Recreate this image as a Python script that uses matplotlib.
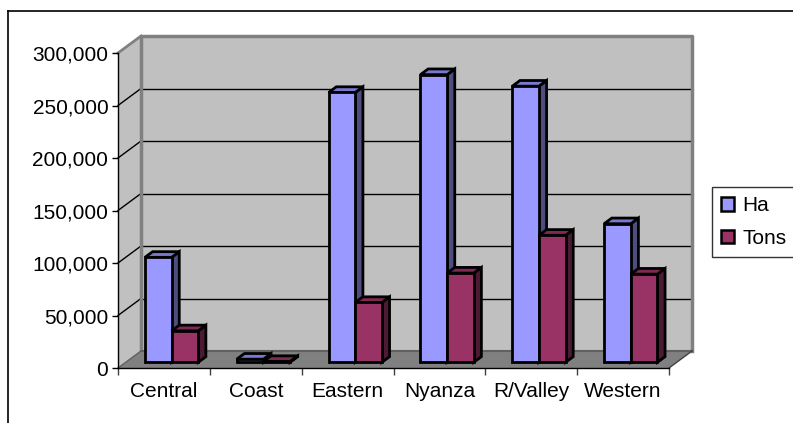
import matplotlib.pyplot as plt
from matplotlib.patches import Polygon, Rectangle, Patch
from matplotlib.lines import Line2D
from matplotlib.ticker import FuncFormatter, FixedLocator

plt.rcParams['font.family'] = ['Liberation Sans', 'DejaVu Sans']
plt.rcParams['font.size'] = 15

regions = ['Central', 'Coast', 'Eastern', 'Nyanza', 'R/Valley', 'Western']
ha = [100000, 3000, 257000, 274000, 263000, 132000]
tons = [30000, 800, 57000, 85000, 121000, 84000]
series_names = ['Ha', 'Tons']
y_max = 300000
y_step = 50000

# face colours: front, top, side
ha_cols = ('#9999FF', '#7878D0', '#4D4D80')
tons_cols = ('#993366', '#7E2A54', '#4D1A33')

W, H = 793, 423
fig = plt.figure(figsize=(W / 100, H / 100), dpi=100)

# front plane of the pseudo 3d box, in pixels
left_px, right_px, top_px, zero_px = 118, 669, 53, 368
ax = fig.add_axes([left_px / W, (H - zero_px) / H,
                   (right_px - left_px) / W, (zero_px - top_px) / H])
ncat = len(regions)
ax.set_xlim(-0.5, ncat - 0.5)
ax.set_ylim(0, y_max)
ax.set_facecolor('none')

sx = (right_px - left_px) / ncat        # px per category
sy = (zero_px - top_px) / y_max         # px per unit
DX = 23 / sx
DY = 17 / sy
x0, x1 = -0.5, ncat - 0.5

def poly(pts, fc, ec='none', lw=0, z=1):
    ax.add_patch(Polygon(pts, closed=True, facecolor=fc, edgecolor=ec,
                         linewidth=lw, zorder=z, clip_on=False))

# walls and floor
poly([(x0, 0), (x0 + DX, DY), (x0 + DX, y_max + DY), (x0, y_max)], '#C0C0C0', z=0)
poly([(x0 + DX, DY), (x1 + DX, DY), (x1 + DX, y_max + DY), (x0 + DX, y_max + DY)],
     '#C0C0C0', z=0)
poly([(x0, 0), (x1, 0), (x1 + DX, DY), (x0 + DX, DY)], '#808080', z=0.5)

for v in range(y_step, y_max, y_step):
    ax.plot([x0 + DX, x1 + DX], [v + DY, v + DY], color='black', lw=1, zorder=0.6, clip_on=False)
    ax.plot([x0, x0 + DX], [v, v + DY], color='black', lw=1, zorder=0.6, clip_on=False)

# wall outlines
gray = '#808080'
ax.plot([x0 + DX, x0 + DX, x1 + DX, x1 + DX], [DY, y_max + DY, y_max + DY, DY],
        color=gray, lw=2.5, zorder=0.7, clip_on=False)
ax.plot([x0, x0 + DX], [y_max, y_max + DY], color=gray, lw=2, zorder=0.7, clip_on=False)
ax.plot([x0 + DX, x1 + DX], [DY, DY], color='#606060', lw=1.5, zorder=0.7, clip_on=False)
ax.plot([x0, x0 + DX], [0, DY], color='#606060', lw=1, zorder=0.7, clip_on=False)
ax.plot([x1, x1 + DX], [0, DY], color='#404040', lw=1, zorder=0.7, clip_on=False)

# bars
bw = 0.29
f, b = 1 / 3, 2 / 3
for j in range(ncat):
    for k, (vals, cols) in enumerate([(ha, ha_cols), (tons, tons_cols)]):
        v = vals[j]
        xl = j - bw + k * bw
        xr = xl + bw
        z = 2 + j * 0.1 + k * 0.05
        poly([(xr + f * DX, f * DY), (xr + b * DX, b * DY),
              (xr + b * DX, v + b * DY), (xr + f * DX, v + f * DY)],
             cols[2], 'black', 2, z)
        poly([(xl + f * DX, v + f * DY), (xr + f * DX, v + f * DY),
              (xr + b * DX, v + b * DY), (xl + b * DX, v + b * DY)],
             cols[1], 'black', 2, z)
        ax.add_patch(Rectangle((xl + f * DX, f * DY), bw, v, facecolor=cols[0],
                               edgecolor='black', linewidth=2, zorder=z + 0.01,
                               clip_on=False))

# axes
for s in ['top', 'right']:
    ax.spines[s].set_visible(False)
ax.spines['left'].set_linewidth(1)
ax.spines['bottom'].set_linewidth(1)
ax.spines['bottom'].set_zorder(5)
ax.set_yticks(range(0, y_max + 1, y_step))
ax.yaxis.set_major_formatter(FuncFormatter(lambda v, p: f'{int(v):,}'))
ax.tick_params(axis='y', length=4, width=1, pad=3, labelsize=15)
ax.set_xticks(range(ncat))
ax.set_xticklabels(regions)
ax.xaxis.set_minor_locator(FixedLocator([i - 0.5 for i in range(ncat + 1)]))
ax.tick_params(axis='x', which='major', length=0, pad=10, labelsize=15)
ax.tick_params(axis='x', which='minor', length=5, width=1, color='#404040')

# legend
handles = [Patch(facecolor=ha_cols[0], edgecolor='black', linewidth=1.8),
           Patch(facecolor=tons_cols[0], edgecolor='black', linewidth=1.8)]
leg = fig.legend(handles, series_names, loc='upper left',
                 bbox_to_anchor=(712 / W, 1 - 187 / H), frameon=True, fancybox=False,
                 edgecolor='black', handlelength=0.6, handleheight=0.6,
                 handletextpad=0.4, borderpad=0.45, labelspacing=0.65,
                 borderaxespad=0, fontsize=15)
leg.get_frame().set_linewidth(1)

# outer chart border
fig.add_artist(Line2D([8 / W, 8 / W], [0, 1 - 11 / H], color='black', lw=1.2,
                      transform=fig.transFigure))
fig.add_artist(Line2D([8 / W, 1], [1 - 11 / H, 1 - 11 / H], color='black', lw=1.2,
                      transform=fig.transFigure))

fig.savefig('out.png', dpi=100)
